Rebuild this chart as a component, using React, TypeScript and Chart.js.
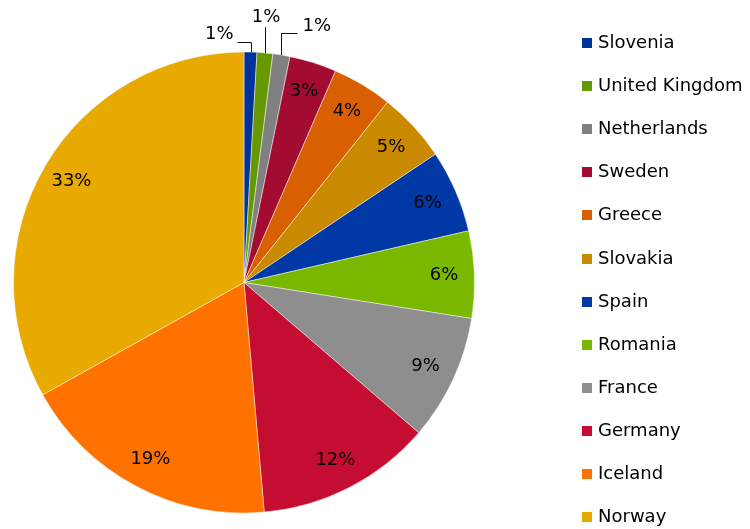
import React, { useEffect, useRef } from "react";
import { Chart, registerables } from "chart.js";

Chart.register(...registerables);

const categories = [
  "Slovenia",
  "United Kingdom",
  "Netherlands",
  "Sweden",
  "Greece",
  "Slovakia",
  "Spain",
  "Romania",
  "France",
  "Germany",
  "Iceland",
  "Norway",
];

const shares = [0.9, 1.1, 1.2, 3.3, 4.2, 4.9, 5.8, 6.1, 8.8, 12.3, 18.3, 33.1];

const percentLabels = ["1%", "1%", "1%", "3%", "4%", "5%", "6%", "6%", "9%", "12%", "19%", "33%"];

const sliceColors = [
  "#003399",
  "#669900",
  "#808080",
  "#a30c30",
  "#d96000",
  "#c98a00",
  "#0039a6",
  "#7ab800",
  "#8e8e8e",
  "#c50d32",
  "#ff7200",
  "#e8aa00",
];

const FONT = '18px "DejaVu Sans", Verdana, sans-serif';

// leader-line style for the small slices whose labels sit outside the pie
const outsideStyle: Record<string, { up: number; side: number; align: CanvasTextAlign; dx: number; dy: number }> = {
  Slovenia: { up: 10, side: -13, align: "right", dx: -4, dy: -7.5 },
  "United Kingdom": { up: 26, side: 0, align: "center", dx: 1, dy: -10 },
  Netherlands: { up: 22, side: 16, align: "left", dx: 5, dy: -6.5 },
};

const labelPlugin = {
  id: "pctLabels",
  afterDatasetsDraw(chart: any) {
    const ctx: CanvasRenderingContext2D = chart.ctx;
    const meta = chart.getDatasetMeta(0);
    ctx.save();
    ctx.font = FONT;
    ctx.fillStyle = "#000";
    ctx.strokeStyle = "#111";
    ctx.lineWidth = 1;
    meta.data.forEach((arc: any, i: number) => {
      const { x, y, startAngle, endAngle, outerRadius } = arc.getProps(
        ["x", "y", "startAngle", "endAngle", "outerRadius"],
        true
      );
      const mid = (startAngle + endAngle) / 2;
      const text = percentLabels[i];
      const st = outsideStyle[categories[i]];
      if (!st) {
        const rr = outerRadius * 0.868;
        ctx.textAlign = "center";
        ctx.textBaseline = "middle";
        ctx.fillText(text, x + Math.cos(mid) * rr, y + Math.sin(mid) * rr);
      } else {
        const ax = x + Math.cos(mid) * outerRadius;
        const ay = y + Math.sin(mid) * outerRadius;
        const ex = ax + st.side;
        const ey = ay - st.up;
        ctx.beginPath();
        ctx.moveTo(Math.round(ax) + 0.5, ay);
        ctx.lineTo(Math.round(ax) + 0.5, Math.round(ey) + 0.5);
        ctx.lineTo(ex, Math.round(ey) + 0.5);
        ctx.stroke();
        ctx.textAlign = st.align;
        ctx.textBaseline = "middle";
        ctx.fillText(text, ex + st.dx, ey + st.dy);
      }
    });
    ctx.restore();
  },
};

export default function App() {
  const canvasRef = useRef<HTMLCanvasElement | null>(null);

  useEffect(() => {
    if (!canvasRef.current) return;
    const chart = new Chart(canvasRef.current, {
      type: "pie",
      data: {
        labels: categories,
        datasets: [
          {
            data: shares,
            backgroundColor: sliceColors,
            borderColor: "rgba(255,255,255,0.45)",
            borderWidth: 1,
          },
        ],
      },
      options: {
        responsive: false,
        animation: false,
        devicePixelRatio: 1,
        layout: { padding: { left: 13, top: 51.5, right: 275, bottom: 15.5 } },
        plugins: {
          legend: { display: false },
          tooltip: { enabled: false },
        },
      },
      plugins: [labelPlugin],
    });
    return () => chart.destroy();
  }, []);

  const firstCenter = 41.7;
  const spacing = 43.1;

  return (
    <div
      style={{
        position: "fixed",
        left: 0,
        top: 0,
        width: 750,
        height: 529,
        background: "#fff",
        overflow: "hidden",
      }}
    >
      <canvas ref={canvasRef} width={750} height={529} style={{ position: "absolute", left: 0, top: 0 }} />
      {categories.map((c, i) => (
        <div
          key={c}
          style={{
            position: "absolute",
            left: 582,
            top: firstCenter + i * spacing - 10.7,
            height: 22,
            whiteSpace: "nowrap",
          }}
        >
          <div
            style={{
              position: "absolute",
              left: 0,
              top: 7,
              width: 10,
              height: 10,
              background: sliceColors[i],
            }}
          />
          <div
            style={{
              position: "absolute",
              left: 16,
              top: 0,
              font: FONT,
              lineHeight: "22px",
              color: "#000",
            }}
          >
            {c}
          </div>
        </div>
      ))}
    </div>
  );
}
